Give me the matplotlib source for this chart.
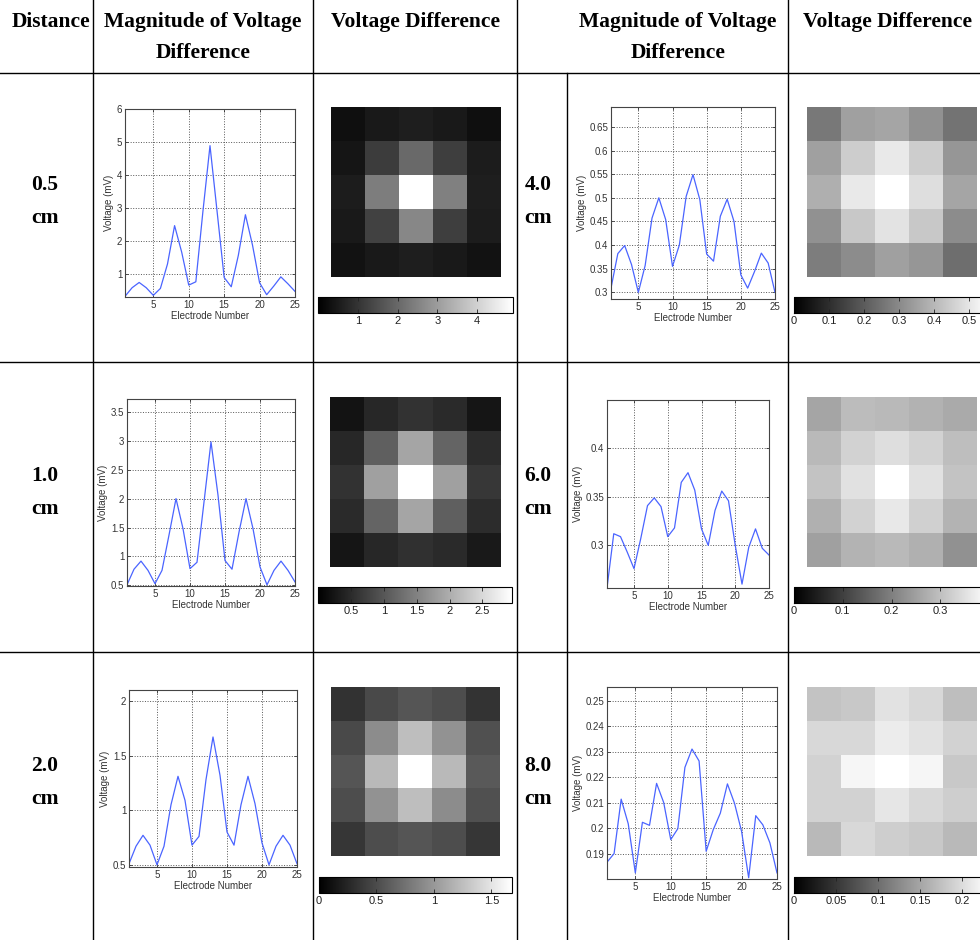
import numpy as np
import matplotlib
matplotlib.use("Agg")
import matplotlib.pyplot as plt
from matplotlib import colors, cm
from matplotlib.ticker import FormatStrFormatter

W, H = 980, 940

# ---- data -------------------------------------------------------------
electrodes = np.arange(1, 26)
distances = ['0.5', '1.0', '2.0', '4.0', '6.0', '8.0']

v_05 = [0.33, 0.59, 0.75, 0.59, 0.36, 0.57, 1.31, 2.47, 1.67, 0.67, 0.77, 2.9, 4.89,
        2.9, 0.90, 0.62, 1.57, 2.80, 1.88, 0.74, 0.38, 0.64, 0.92, 0.71, 0.48]
v_10 = [0.51, 0.78, 0.92, 0.76, 0.53, 0.76, 1.37, 2.00, 1.48, 0.79, 0.90, 1.94, 2.98,
        2.06, 0.93, 0.78, 1.42, 2.00, 1.48, 0.82, 0.51, 0.76, 0.92, 0.76, 0.56]
v_20 = [0.51, 0.67, 0.77, 0.68, 0.50, 0.67, 1.05, 1.31, 1.09, 0.68, 0.76, 1.28, 1.67,
        1.32, 0.80, 0.68, 1.05, 1.31, 1.06, 0.70, 0.50, 0.67, 0.77, 0.68, 0.51]
v_40 = [0.309, 0.382, 0.399, 0.359, 0.300, 0.357, 0.457, 0.500, 0.454, 0.355, 0.400, 0.503, 0.549,
        0.496, 0.381, 0.366, 0.461, 0.497, 0.450, 0.337, 0.309, 0.344, 0.383, 0.362, 0.300]
v_60 = [0.256, 0.312, 0.309, 0.293, 0.276, 0.307, 0.341, 0.349, 0.340, 0.309, 0.318, 0.365, 0.375,
        0.357, 0.317, 0.300, 0.336, 0.356, 0.346, 0.300, 0.260, 0.298, 0.317, 0.297, 0.290]
v_80 = [0.1866, 0.1900, 0.2114, 0.2017, 0.1824, 0.2023, 0.2011, 0.2176, 0.2101, 0.1955, 0.1998, 0.2239, 0.2311,
        0.2264, 0.1909, 0.1994, 0.2059, 0.2174, 0.2098, 0.1987, 0.1805, 0.2049, 0.2013, 0.1942, 0.1824]
line_data = [v_05, v_10, v_20, v_40, v_60, v_80]

ylims = [(0.31, 6.0), (0.49, 3.72), (0.48, 2.1), (0.286, 0.692), (0.256, 0.45), (0.180, 0.2555)]
yticks = [[1, 2, 3, 4, 5, 6],
          [0.5, 1, 1.5, 2, 2.5, 3, 3.5],
          [0.5, 1, 1.5, 2],
          [0.3, 0.35, 0.4, 0.45, 0.5, 0.55, 0.6, 0.65],
          [0.3, 0.35, 0.4],
          [0.19, 0.2, 0.21, 0.22, 0.23, 0.24, 0.25]]

h_05 = [[0.29, 0.48, 0.58, 0.48, 0.29],
        [0.42, 1.15, 2.02, 1.19, 0.54],
        [0.54, 2.40, 4.90, 2.46, 0.58],
        [0.48, 1.25, 2.59, 1.19, 0.54],
        [0.35, 0.48, 0.58, 0.48, 0.35]]
h_10 = [[0.23, 0.46, 0.58, 0.49, 0.25],
        [0.46, 1.10, 1.91, 1.16, 0.52],
        [0.58, 1.85, 2.95, 1.85, 0.64],
        [0.49, 1.16, 1.91, 1.10, 0.52],
        [0.25, 0.46, 0.56, 0.49, 0.29]]
h_20 = [[0.33, 0.49, 0.56, 0.51, 0.34],
        [0.49, 0.92, 1.25, 0.96, 0.53],
        [0.56, 1.22, 1.68, 1.22, 0.59],
        [0.51, 0.96, 1.25, 0.92, 0.53],
        [0.36, 0.51, 0.56, 0.51, 0.36]]
h_40 = [[0.262, 0.349, 0.360, 0.317, 0.251],
        [0.349, 0.448, 0.507, 0.448, 0.328],
        [0.382, 0.507, 0.557, 0.485, 0.360],
        [0.317, 0.437, 0.498, 0.437, 0.306],
        [0.273, 0.306, 0.349, 0.328, 0.240]]
h_60 = [[0.259, 0.295, 0.290, 0.279, 0.267],
        [0.290, 0.329, 0.348, 0.329, 0.298],
        [0.306, 0.353, 0.400, 0.353, 0.306],
        [0.275, 0.329, 0.364, 0.326, 0.282],
        [0.251, 0.282, 0.290, 0.275, 0.228]]
h_80 = [[0.177, 0.182, 0.205, 0.196, 0.173],
        [0.196, 0.196, 0.214, 0.205, 0.191],
        [0.191, 0.223, 0.232, 0.223, 0.182],
        [0.191, 0.191, 0.209, 0.196, 0.187],
        [0.168, 0.196, 0.187, 0.182, 0.168]]
heat_data = [h_05, h_10, h_20, h_40, h_60, h_80]

cbar_max = [4.9, 2.95, 1.68, 0.557, 0.40, 0.232]
cbar_ticks = [[1, 2, 3, 4],
              [0.5, 1, 1.5, 2, 2.5],
              [0, 0.5, 1, 1.5],
              [0, 0.1, 0.2, 0.3, 0.4, 0.5],
              [0, 0.1, 0.2, 0.3],
              [0, 0.05, 0.1, 0.15, 0.2]]

# ---- layout (pixels) --------------------------------------------------
line_rects = [(125, 109, 170, 188), (127, 399, 168, 187), (129, 690, 168, 177),
              (611, 107, 164, 192), (607, 400, 162, 188), (607, 687, 170, 192)]
heat_rects = [(331, 107, 170, 170), (330, 397, 170, 170), (331, 687, 169, 169),
              (807, 107, 170, 170), (807, 397, 170, 170), (807, 687, 170, 169)]
cbar_rects = [(318, 297, 195, 16), (318, 587, 194, 16), (319, 877, 193, 16),
              (794, 297, 195, 16), (794, 587, 195, 16), (794, 877, 195, 16)]
label_pos = [(45, 185), (45, 476), (45, 766), (538, 185), (538, 476), (538, 766)]


def px(l, t, w, h):
    return [l / W, 1 - (t + h) / H, w / W, h / H]


plt.rcParams['font.family'] = ['Liberation Sans', 'DejaVu Sans']
fig = plt.figure(figsize=(W / 100, H / 100), dpi=100)

# table lines
def hline(y, x0=0, x1=W):
    fig.add_artist(plt.Line2D([x0 / W, x1 / W], [1 - y / H, 1 - y / H], color='k', lw=1.0))

def vline(x, y0=0, y1=H):
    fig.add_artist(plt.Line2D([x / W, x / W], [1 - y0 / H, 1 - y1 / H], color='k', lw=1.0))

for y in [73, 362, 652]:
    hline(y)
for x in [93, 313, 517, 788]:
    vline(x)
vline(567, 73, H)

# header
hdr = dict(family='Liberation Serif', fontweight='bold', fontsize=15.5, color='k', va='center')
fig.text(51 / W, 1 - 22 / H, 'Distance', ha='center', **hdr)
fig.text(203 / W, 1 - 22 / H, 'Magnitude of Voltage', ha='center', **hdr)
fig.text(203 / W, 1 - 53 / H, 'Difference', ha='center', **hdr)
fig.text(415 / W, 1 - 22 / H, 'Voltage Difference', ha='center', **hdr)
fig.text(678 / W, 1 - 22 / H, 'Magnitude of Voltage', ha='center', **hdr)
fig.text(678 / W, 1 - 53 / H, 'Difference', ha='center', **hdr)
fig.text(803 / W, 1 - 22 / H, 'Voltage Difference', ha='left', **hdr)

for d, (x, y) in zip(distances, label_pos):
    fig.text(x / W, 1 - y / H, d, ha='center', **hdr)
    fig.text(x / W, 1 - (y + 33) / H, 'cm', ha='center', **hdr)

blue = '#4a64ff'
txt = '#333333'

for i in range(6):
    ax = fig.add_axes(px(*line_rects[i]))
    ax.plot(electrodes, line_data[i], color=blue, lw=0.9)
    ax.set_xlim(1, 25)
    ax.set_ylim(*ylims[i])
    ax.set_xticks([5, 10, 15, 20, 25])
    ax.set_yticks(yticks[i])
    ax.yaxis.set_major_formatter(FormatStrFormatter('%g'))
    ax.grid(True, linestyle=':', color='#555555', lw=0.7)
    ax.tick_params(direction='in', top=True, right=True, length=2.5, width=0.6,
                   labelsize=7, colors=txt, pad=2)
    for s in ax.spines.values():
        s.set_color('#444444')
        s.set_linewidth(0.8)
    ax.set_xlabel('Electrode Number', fontsize=7, color=txt, labelpad=1)
    ax.set_ylabel('Voltage (mV)', fontsize=7, color=txt, labelpad=2)

    hax = fig.add_axes(px(*heat_rects[i]))
    norm = colors.Normalize(vmin=0, vmax=cbar_max[i])
    hax.imshow(np.array(heat_data[i]), cmap='gray', norm=norm, interpolation='nearest',
               aspect='auto')
    hax.set_xticks([])
    hax.set_yticks([])
    for s in hax.spines.values():
        s.set_visible(False)

    cax = fig.add_axes(px(*cbar_rects[i]))
    cb = fig.colorbar(cm.ScalarMappable(norm=norm, cmap='gray'), cax=cax,
                      orientation='horizontal', ticks=cbar_ticks[i])
    cb.ax.xaxis.set_major_formatter(FormatStrFormatter('%g'))
    cb.ax.tick_params(direction='in', length=3, width=0.6, labelsize=8, colors='#222222',
                      top=True, pad=2)
    cb.outline.set_linewidth(0.8)

fig.savefig('out.png', dpi=100)
